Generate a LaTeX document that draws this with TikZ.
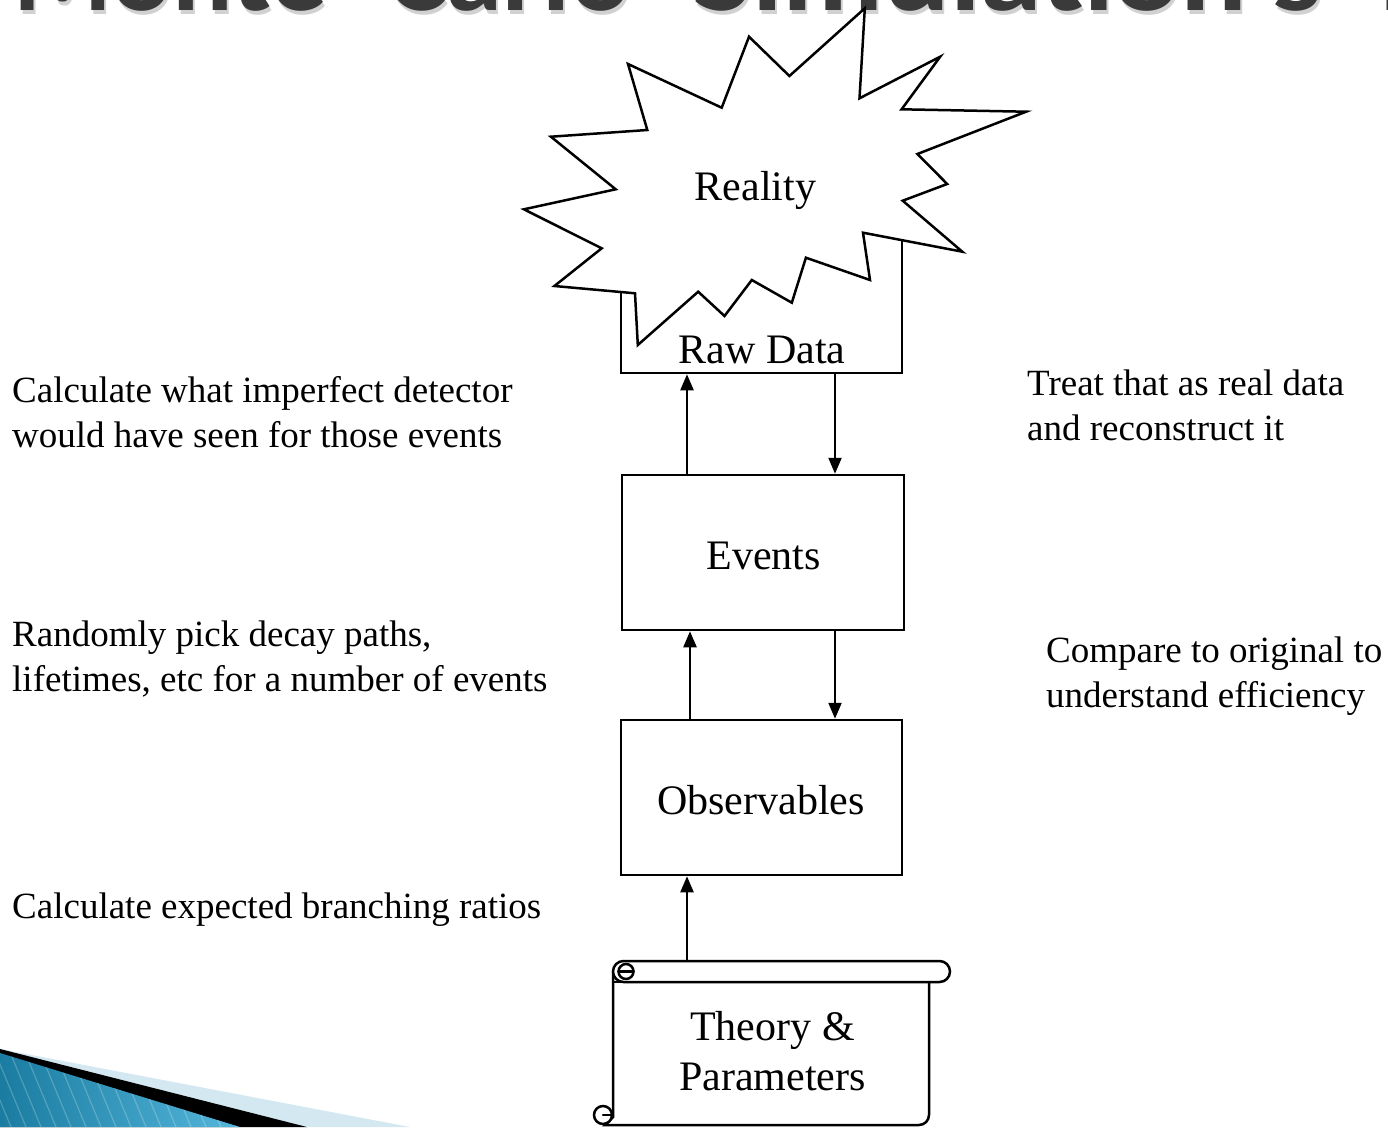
\documentclass[tikz,border=0pt]{standalone}
\usepackage{fontspec}
\setmainfont{Liberation Serif}
\newfontfamily\titlefont{Carlito}
\usetikzlibrary{arrows.meta,calc}

\definecolor{titlegray}{HTML}{3A3A3A}
\definecolor{titleshadow}{HTML}{9A9A9A}
\definecolor{wedgedark}{HTML}{1A7CA0}
\definecolor{wedgelight}{HTML}{55B6DB}
\definecolor{wedgepale}{HTML}{D4E8F1}

\tikzset{
  flowbox/.style={draw, line width=2.5pt, fill=white, inner sep=0pt,
                  minimum width=281pt, minimum height=155pt},
  boxtext/.style={inner sep=0pt, anchor=base, align=center,
                  font=\fontsize{42}{50}\selectfont},
  note/.style={inner sep=0pt, anchor=base west, align=left,
               font=\fontsize{37}{44.5}\selectfont},
  flow/.style={line width=2.3pt, -{Triangle[length=16pt,width=13pt]}},
  heading/.style={inner sep=0pt, anchor=base west,
                  font=\titlefont\bfseries\fontsize{113}{113}\selectfont},
  outline/.style={line width=2.5pt, line join=miter}
}

\begin{document}
\begin{tikzpicture}[x=1pt,y=-1pt]
\useasboundingbox (0,0) rectangle (1388,1127);
\clip (0,0) rectangle (1388,1127);
\fill[white] (0,0) rectangle (1388,1127);

% slide heading, cut by the top edge
\begin{scope}
  \node[heading, text=titleshadow, opacity=0.45] (h1s) at (15,14) {Monte};
  \node[heading, text=titleshadow, opacity=0.45] (h2s) at (389,14) {Carlo};
  \node[heading, text=titleshadow, opacity=0.45] (h3s) at (695,14) {\scalebox{1.1}[1]{Simulation's}};
  \node[heading, text=titleshadow, opacity=0.45] (h4s) at (1382,14) {Role};
  \node[heading, text=titlegray] (h1) at (13,10) {Monte};
  \node[heading, text=titlegray] (h2) at (387,10) {Carlo};
  \node[heading, text=titlegray] (h3) at (693,10) {\scalebox{1.1}[1]{Simulation's}};
  \node[heading, text=titlegray] (h4) at (1380,10) {Role};
\end{scope}

% raw data box, partly hidden behind the burst
\node[flowbox, minimum height=153pt] (raw) at (761.5,296.5) {};

% the burst
\draw[outline, fill=white]
  (864.8,8.3) -- (859.5,98.3) -- (940.2,56.7) -- (901.6,109.3) --
  (1026.1,111.7) -- (917.4,154.0) -- (947.2,184.0) -- (902.7,200.7) --
  (962.3,251.7) -- (863.0,232.7) -- (870.0,280.0) -- (805.9,257.7) --
  (791.8,302.7) -- (751.8,280.0) -- (724.5,316.0) -- (698.2,291.7) --
  (637.8,345.0) -- (635.0,293.3) -- (554.4,286.0) -- (601.7,248.3) --
  (523.9,209.3) -- (615.7,189.3) -- (550.9,136.7) -- (647.3,130.0) --
  (628.0,64.0) -- (721.7,107.7) -- (749.0,36.7) -- (789.4,76.0) -- cycle;
\node[boxtext] (reality) at (755.5,200) {Reality};
\node[boxtext] (rawtext) at (762,363) {Raw Data};

% middle boxes
\node[flowbox, minimum width=282pt] (events) at (763,552.5) {};
\node[boxtext] (eventstext) at (763.5,569) {Events};
\node[flowbox] (obs) at (761.5,797.5) {};
\node[boxtext] (obstext) at (761,814) {Observables};

% scroll
\node[inner sep=0pt, minimum width=337pt, minimum height=164pt] (scroll) at (781.5,1043) {};
\begin{scope}[outline, line cap=round]
  \draw[fill=white] (613,972) -- (613,1117) -- (605,1125) -- (919,1125)
        [rounded corners=10pt] -- (929,1125) -- (929,982);
  \draw[fill=white, rounded corners=10.5pt] (613,961) rectangle (950,982);
  \draw (626,982) -- (613,982);
  \draw (626,971.5) circle[radius=7.5pt];
  \draw (618.5,971.5) -- (633.5,971.5);
  \draw[fill=white] (603,1115) circle[radius=9pt];
  \draw (603,1115) -- (613,1115);
\end{scope}
% a multi-line node sits on the baseline of its last line
\node[boxtext] (theory) at (772.5,1090) {Theory \&\\Parameters};

% connectors
\coordinate (ua) at (687,0);
\coordinate (da) at (835,0);
\coordinate (ub) at (690,0);
\coordinate (uc) at (687,0);
\draw[flow] (events.north -| ua) -- (raw.south -| ua);
\draw[flow] (raw.south -| da) -- (events.north -| da);
\draw[flow] (obs.north -| ub) -- (events.south -| ub);
\draw[flow] (events.south -| da) -- (obs.north -| da);
\draw[flow] (scroll.north -| uc) -- (obs.south -| uc);

% side notes
\node[note] (n1) at (12,447) {Calculate what imperfect detector\\would have seen for those events};
\node[note] (n2) at (12,691) {Randomly pick decay paths,\\lifetimes, etc for a number of events};
\node[note] (n3) at (12,918) {Calculate expected branching ratios};
\node[note] (n4) at (1027,440) {Treat that as real data\\and reconstruct it};
\node[note] (n5) at (1046,707) {Compare to original to\\understand efficiency};

% corner wedge
\fill[wedgepale] (0,1049) -- (410,1127) -- (0,1127) -- cycle;
\fill[black] (0,1049) -- (307,1127) -- (0,1127) -- cycle;
\begin{scope}
  \clip (0,1053) -- (240,1127) -- (0,1127) -- cycle;
  \shade[left color=wedgedark, right color=wedgelight] (0,1040) rectangle (240,1127);
  \foreach \i in {-40,-25,...,260}
    \draw[white, opacity=0.22, line width=1.2pt] (\i,1040) -- (\i+36,1127);
\end{scope}
\end{tikzpicture}
\end{document}
